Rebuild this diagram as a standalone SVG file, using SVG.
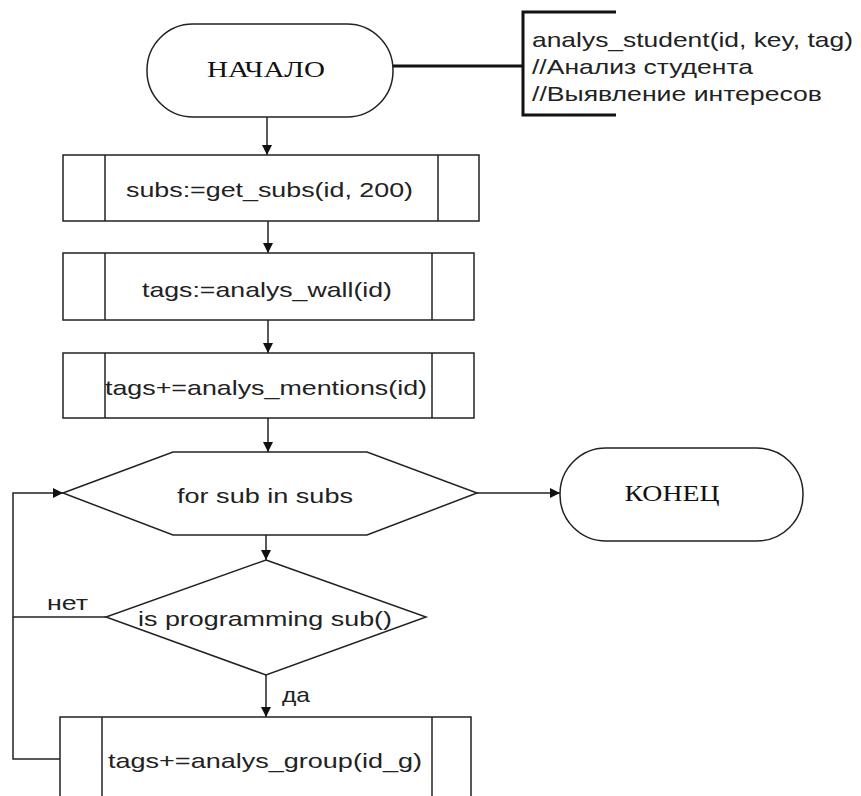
<svg xmlns="http://www.w3.org/2000/svg" width="861" height="796" viewBox="0 0 861 796">
<defs>
<marker id="arr" viewBox="0 0 10 10" refX="10" refY="5" markerWidth="10" markerHeight="10" markerUnits="userSpaceOnUse" orient="auto">
<path d="M0,0 L10,5 L0,10 Z" fill="#111"/>
</marker>
</defs>
<style>
.shape{fill:#fff;stroke:#222;stroke-width:1.5}
.ln{fill:none;stroke:#222;stroke-width:1.5}
.thick{fill:none;stroke:#111;stroke-width:3}
.t{font-family:"Liberation Sans",Arial,sans-serif;font-size:21px;fill:#222}
.s{font-family:"Liberation Serif","Times New Roman",serif;font-size:24px;fill:#111}
</style>
<rect width="861" height="796" fill="#fff"/>
<g id="connectors">
<line class="thick" x1="393" y1="66" x2="523" y2="66"/>
<line class="ln" x1="267" y1="117" x2="267" y2="155" marker-end="url(#arr)"/>
<line class="ln" x1="268" y1="221" x2="268" y2="253" marker-end="url(#arr)"/>
<line class="ln" x1="268" y1="320" x2="268" y2="353" marker-end="url(#arr)"/>
<line class="ln" x1="268" y1="418" x2="268" y2="452" marker-end="url(#arr)"/>
<line class="ln" x1="266" y1="535" x2="266" y2="560" marker-end="url(#arr)"/>
<line class="ln" x1="477" y1="493" x2="560" y2="493" marker-end="url(#arr)"/>
<line class="ln" x1="266" y1="675" x2="266" y2="717" marker-end="url(#arr)"/>
<path class="ln" d="M106,617 H13 V493 H63" marker-end="url(#arr)"/>
<path class="ln" d="M60,759 H13 V617"/>
<text class="t" x="47" y="610" textLength="41" lengthAdjust="spacingAndGlyphs">нет</text>
<text class="t" x="282" y="702" textLength="28" lengthAdjust="spacingAndGlyphs">да</text>
</g>
<g id="start">
<rect class="shape" x="147" y="24" width="246" height="93" rx="46" ry="46"/>
<text class="s" x="266" y="77" text-anchor="middle" textLength="118" lengthAdjust="spacingAndGlyphs">НАЧАЛО</text>
</g>
<g id="comment">
<path class="thick" d="M616,12 H523 V115 H616"/>
<text class="t" x="532" y="47" textLength="321" lengthAdjust="spacingAndGlyphs">analys_student(id, key, tag)</text>
<text class="t" x="532" y="74" textLength="221" lengthAdjust="spacingAndGlyphs">//Анализ студента</text>
<text class="t" x="532" y="101" textLength="290" lengthAdjust="spacingAndGlyphs">//Выявление интересов</text>
</g>
<g id="get_subs">
<rect class="shape" x="63" y="155" width="416" height="66"/>
<line class="ln" x1="105" y1="155" x2="105" y2="221"/>
<line class="ln" x1="438" y1="155" x2="438" y2="221"/>
<text class="t" x="269.5" y="197" text-anchor="middle" textLength="287" lengthAdjust="spacingAndGlyphs">subs:=get_subs(id, 200)</text>
</g>
<g id="analys_wall">
<rect class="shape" x="63" y="253" width="411" height="67"/>
<line class="ln" x1="105" y1="253" x2="105" y2="320"/>
<line class="ln" x1="432" y1="253" x2="432" y2="320"/>
<text class="t" x="267" y="297" text-anchor="middle" textLength="250" lengthAdjust="spacingAndGlyphs">tags:=analys_wall(id)</text>
</g>
<g id="analys_mentions">
<rect class="shape" x="63" y="353" width="411" height="65"/>
<line class="ln" x1="105" y1="353" x2="105" y2="418"/>
<line class="ln" x1="432" y1="353" x2="432" y2="418"/>
<text class="t" x="266" y="395" text-anchor="middle" textLength="322" lengthAdjust="spacingAndGlyphs">tags+=analys_mentions(id)</text>
</g>
<g id="loop">
<polygon class="shape" points="63,493 173,452 367,452 477,493 367,535 173,535"/>
<text class="t" x="265" y="503" text-anchor="middle" textLength="176" lengthAdjust="spacingAndGlyphs">for sub in subs</text>
</g>
<g id="end">
<rect class="shape" x="560" y="448" width="243" height="93" rx="46" ry="46"/>
<text class="s" x="672" y="501" text-anchor="middle" textLength="95" lengthAdjust="spacingAndGlyphs">КОНЕЦ</text>
</g>
<g id="decision">
<polygon class="shape" points="266,560 426,617 266,675 106,617"/>
<text class="t" x="265" y="626" text-anchor="middle" textLength="254" lengthAdjust="spacingAndGlyphs">is programming sub()</text>
</g>
<g id="analys_group">
<rect class="shape" x="60" y="717" width="411" height="100"/>
<line class="ln" x1="102" y1="717" x2="102" y2="817"/>
<line class="ln" x1="432" y1="717" x2="432" y2="817"/>
<text class="t" x="265" y="768" text-anchor="middle" textLength="314" lengthAdjust="spacingAndGlyphs">tags+=analys_group(id_g)</text>
</g>
</svg>
